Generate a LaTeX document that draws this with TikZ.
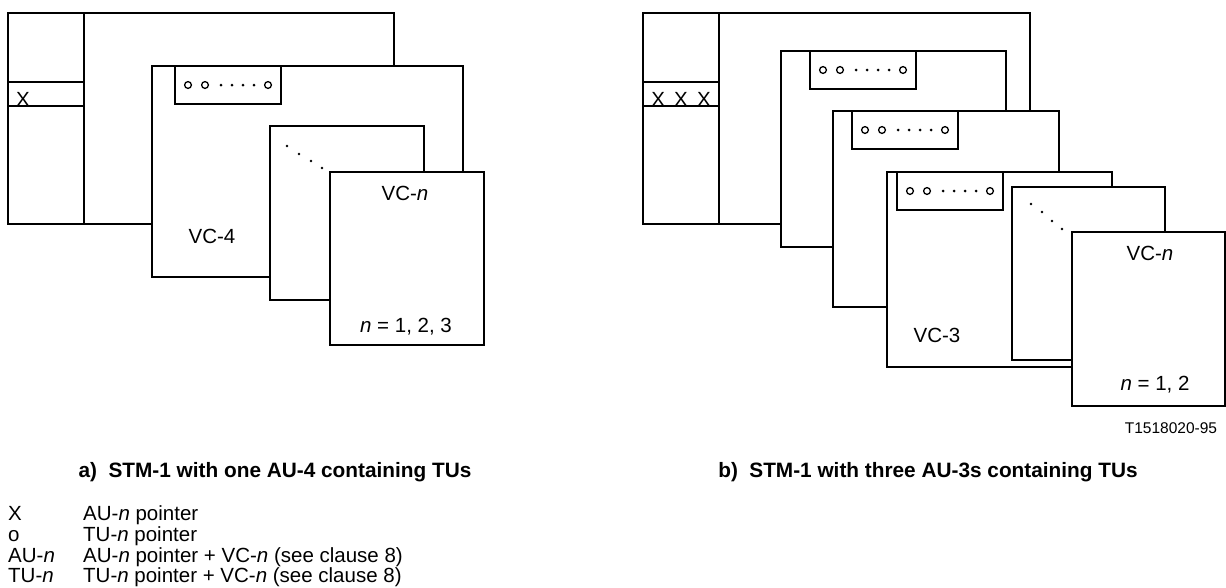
\documentclass[tikz,border=0pt]{standalone}
\usepackage{fontspec}
\setmainfont{Liberation Sans}
\begin{document}
\begin{tikzpicture}[x=1pt,y=-1pt,
  frame/.style={draw=black,fill=white,line width=1.3pt},
  rule/.style={draw=black,line width=1.3pt},
  lbl/.style={inner sep=0pt,anchor=base,font=\fontsize{20.5}{24}\selectfont},
  leg/.style={inner sep=0pt,anchor=base west,font=\fontsize{20.5}{24}\selectfont},
  ttl/.style={inner sep=0pt,anchor=base,font=\fontsize{20.8}{24}\selectfont\bfseries},
  ptrbox/.pic={
    \draw[frame] (0,0) rectangle (106,38);
    \foreach \cx in {13,30,93} \draw[line width=1.3pt] (\cx,19) circle[radius=3.4pt];
    \foreach \dx in {46,57,68,79} \fill (\dx,19) circle[radius=1.5pt];
  }]
\useasboundingbox (0,0) rectangle (1226,587);
% ---------- panel a ----------
\draw[frame] (8,13) rectangle (394,224);
\draw[rule] (84,13) -- (84,224);
\draw[rule] (8,82) -- (84,82);
\draw[rule] (8,106) -- (84,106);
\node[lbl] (xa) at (23,106) {X};
\draw[frame] (152,66) rectangle (463,277);
\pic at (175,66) {ptrbox};
\node[lbl] (vc4) at (212,243) {VC-4};
\draw[frame] (270,126) rectangle (424,300);
\foreach \p in {(287,146),(299,154),(311,161),(322,168)} \fill \p circle[radius=1.4pt];
\draw[frame] (330,172) rectangle (484,345);
\node[lbl] (vcna) at (405,200) {VC-\textit{n}};
\node[lbl] (na) at (406,332) {\textit{n} = 1, 2, 3};
% ---------- panel b ----------
\draw[frame] (643,13) rectangle (1030,224);
\draw[rule] (719,13) -- (719,224);
\draw[rule] (643,82) -- (719,82);
\draw[rule] (643,106) -- (719,106);
\node[lbl] (xb) at (681,106) {X\hspace{0.45em}X\hspace{0.45em}X};
\draw[frame] (781,51) rectangle (1006,247);
\pic at (810,51) {ptrbox};
\draw[frame] (833,111) rectangle (1059,307);
\pic at (852,111) {ptrbox};
\draw[frame] (887,172) rectangle (1112,367);
\pic at (897,172) {ptrbox};
\node[lbl] (vc3) at (937,342) {VC-3};
\draw[frame] (1012,187) rectangle (1165,360);
\foreach \p in {(1031,204),(1042,212),(1052,221),(1062,229)} \fill \p circle[radius=1.4pt];
\draw[frame] (1072,232) rectangle (1225,406);
\node[lbl] (vcnb) at (1150,260) {VC-\textit{n}};
\node[lbl] (nb) at (1155,390) {\textit{n} = 1, 2};
\node[inner sep=0pt,anchor=base,font=\fontsize{15.5}{18}\selectfont] (code) at (1171,433) {T1518020-95};
% ---------- titles ----------
\node[ttl] (ta) at (275,477) {a)\hspace{0.55em}STM-1 with one AU-4 containing TUs};
\node[ttl] (tb) at (928,477) {b)\hspace{0.55em}STM-1 with three AU-3s containing TUs};
% ---------- legend ----------
\node[leg] (l1) at (8,520) {X};
\node[leg] (d1) at (83,520) {AU-\textit{n} pointer};
\node[leg] (l2) at (8,541) {o};
\node[leg] (d2) at (83,541) {TU-\textit{n} pointer};
\node[leg] (l3) at (8,562) {AU-\textit{n}};
\node[leg] (d3) at (83,562) {AU-\textit{n} pointer + VC-\textit{n} (see clause 8)};
\node[leg] (l4) at (8,582) {TU-\textit{n}};
\node[leg] (d4) at (83,582) {TU-\textit{n} pointer + VC-\textit{n} (see clause 8)};
\end{tikzpicture}
\end{document}
